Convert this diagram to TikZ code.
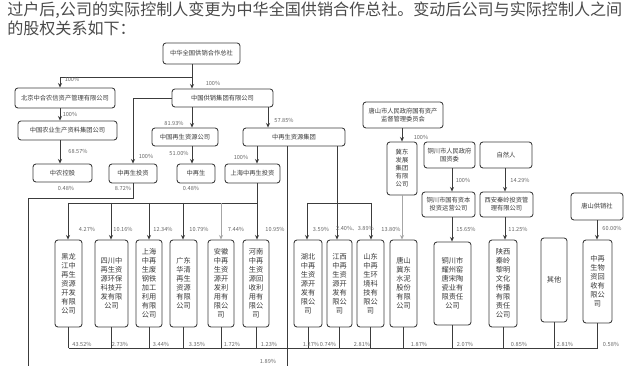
\documentclass[tikz,border=0pt]{standalone}
\usepackage{fontspec}
\setmainfont{Liberation Sans}
\newfontfamily\cjk{Noto Sans CJK SC}
\usetikzlibrary{arrows.meta}
\definecolor{lncol}{HTML}{3C3C3C}
\definecolor{txcol}{HTML}{3A3A3A}
\definecolor{lbcol}{HTML}{666666}
\definecolor{pcol}{HTML}{4A4A4A}
\tikzset{
  box/.style={draw=lncol, line width=0.65pt, rounded corners=2.2pt, inner sep=0pt, align=center,
    font=\cjk\fontsize{4.7}{6}\selectfont, text=txcol},
  tall/.style={font=\cjk\fontsize{5.4}{6.75}\selectfont},
  pct/.style={font=\cjk\fontsize{4.2}{5}\selectfont, text=lbcol, inner sep=0pt},
  wire/.style={draw=lncol, line width=0.65pt},
  arr/.style={wire, -{Stealth[length=3.4pt,width=3pt]}},
  para/.style={font=\cjk\fontsize{12.05}{15}\selectfont, text=pcol, inner sep=0pt, anchor=west},
}
\newcommand{\mybox}[7][]{\node[box,#1,minimum width={(#5-#3)*0.75pt},minimum height={(#6-#4)*0.75pt}] (#2) at ({(#3+#5)/2},{(#4+#6)/2}) {#7};}
\newcommand{\pc}[4]{\node[pct] (#1) at (#2,#3) {#4};}
\begin{document}
\begin{tikzpicture}[x=0.75pt,y=-0.75pt]
\useasboundingbox (0,0) rectangle (627,366);
\fill[white] (0,0) rectangle (627,366);
% paragraph
\node[para] (p1) at (7,10) {过户后,公司的实际控制人变更为中华全国供销合作总社。变动后公司与实际控制人之间};
\node[para] (p2) at (7,28) {的股权关系如下：};
% upper nodes
\mybox{A}{163}{43}{240}{64}{中华全国供销合作总社}
\mybox{B}{15}{88}{115}{108}{北京中合农信资产管理有限公司}
\mybox{C}{18}{121}{117}{140}{中国农业生产资料集团公司}
\mybox{D}{33}{164}{92}{182}{中农控股}
\mybox{M}{172}{89}{273}{107}{中国供销集团有限公司}
\mybox{E}{109}{164}{157}{183}{中再生投资}
\mybox{F}{152}{128}{218}{146}{中国再生资源公司}
\mybox{G}{177}{164}{215}{183}{中再生}
\mybox{H}{243}{128}{345}{146}{中再生资源集团}
\mybox{G2}{225}{164}{280}{183}{上海中再生投资}
\mybox{N}{363}{102}{443}{128}{唐山市人民政府国有资产\\监督管理委员会}
\mybox{P}{387}{142}{417}{195}{冀东\\发展\\集团\\有限\\公司}
\mybox{Q}{424}{142}{475}{168}{铜川市人民政府\\国资委}
\mybox{R}{422}{192}{475}{217}{铜川市国有资本\\投资运营公司}
\mybox{S}{480}{142}{532}{168}{自然人}
\mybox{T}{480}{192}{533}{217}{西安秦岭投资管\\理有限公司}
\mybox{U}{571}{193}{623}{220}{唐山供销社}
% tall nodes
\mybox[tall]{K1}{55}{240}{82}{327}{黑龙\\江中\\再生\\资源\\开发\\有限\\公司}
\mybox[tall]{K2}{95}{240}{128}{327}{四川中\\再生资\\源环保\\科技开\\发有限\\公司}
\mybox[tall]{K3}{136}{240}{162}{327}{上海\\中再\\生废\\钢铁\\加工\\利用\\有限\\公司}
\mybox[tall]{K4}{170}{240}{197}{327}{广东\\华清\\再生\\资源\\有限\\公司}
\mybox[tall]{K5}{208}{240}{234}{327}{安徽\\中再\\生资\\源开\\发利\\用有\\限公\\司}
\mybox[tall]{K6}{243}{240}{269}{327}{河南\\中再\\生资\\源回\\收利\\用有\\限公\\司}
\mybox[tall]{K7}{294}{240}{322}{327}{湖北\\中再\\生资\\源开\\发有\\限公\\司}
\mybox[tall]{K8}{327}{240}{352}{327}{江西\\中再\\生资\\源开\\发有\\限公\\司}
\mybox[tall]{K9}{357}{240}{384}{327}{山东\\中再\\生环\\境科\\技有\\限公\\司}
\mybox[tall]{K10}{390}{240}{417}{327}{唐山\\冀东\\水泥\\股份\\有限\\公司}
\mybox[tall]{K11}{434}{242}{471}{325}{铜川市\\耀州窑\\唐宋陶\\瓷业有\\限责任\\公司}
\mybox[tall]{K12}{489}{240}{517}{327}{陕西\\秦岭\\黎明\\文化\\传播\\有限\\责任\\公司}
\mybox[tall]{K13}{541}{238}{567}{322}{其他}
\mybox[tall]{K14}{583}{240}{612}{323}{中再\\生物\\资回\\收有\\限公\\司}
% connectors, upper part
\coordinate (j1) at (192,77);
\draw[arr] (A.south -| 192,0) -- (M.north -| 192,0);
\draw[arr] (j1) -| (B.north -| 60,0);
\draw[arr] (B.south -| 60,0) -- (C.north -| 60,0);
\draw[arr] (C.south -| 60,0) -- (D.north -| 60,0);
\draw[arr] (M.west) -| (E.north);
\draw[arr] (M.south -| 192,0) -- (F.north -| 192,0);
\draw[arr] (F.south -| 192,0) -- (G.north -| 192,0);
\draw[arr] (M.south -| 268,0) -- (H.north -| 268,0);
\draw[arr] (H.south -| 257,0) -- (G2.north -| 257,0);
\coordinate (out2) at (287,366);
\draw[wire] (H.south -| 287,0) -- (out2);
\draw[arr] (H.south -| 337,0) -- (K8.north -| 337,0);
\coordinate (b2L) at (307,203);
\coordinate (b2R) at (371,203);
\draw[wire] (b2L) -- (b2R);
\draw[arr] (b2L) -- (K7.north -| b2L);
\draw[arr] (b2R) -- (K9.north -| b2R);
\draw[arr] (G2.south -| 257,0) -- (K6.north -| 257,0);
\coordinate (b1L) at (68,203);
\draw[wire] (b1L) -- (257,203);
\foreach \k/\x in {K1/68,K2/111,K3/149,K4/183} \draw[arr] (\x,203) -- (\k.north -| \x,0);
\draw[arr, draw=gray!70] (221,203) -- (K5.north -| 221,0);
\coordinate (out1) at (28,366);
\draw[wire] (E.south) |- (28,198) -- (out1);
\draw[arr] (N.south -| 402,0) -- (P.north -| 402,0);
\draw[arr, draw=gray!70] (P.south -| 402,0) -- (K10.north -| 402,0);
\draw[arr] (Q.south -| 452,0) -- (R.north -| 452,0);
\draw[arr] (R.south -| 452,0) -- (K11.north -| 452,0);
\draw[arr] (S.south -| 505,0) -- (T.north -| 505,0);
\draw[arr] (T.south -| 505,0) -- (K12.north -| 505,0);
\draw[arr] (U.south -| 597,0) -- (K14.north -| 597,0);
% bottom bus
\foreach \k in {K1,K2,K3,K4,K5,K6,K7,K8,K9,K10,K11,K12,K13,K14} \draw[wire] (\k.south) -- (\k.south |- 0,348);
\draw[wire] (K1.south |- 0,348) -- (K14.south |- 0,348);
% labels
\pc{la}{213}{83}{100\%}
\pc{lb}{72}{79}{100\%}
\pc{lc}{70}{114}{100\%}
\pc{ld}{78}{151}{68.57\%}
\pc{le}{146}{156}{100\%}
\pc{lf}{174}{123}{81.93\%}
\pc{lg}{179}{153}{51.00\%}
\pc{lh}{284}{120}{57.85\%}
\pc{lg2}{241}{157}{100\%}
\pc{dD}{66}{188}{0.48\%}
\pc{dE}{123}{188}{8.72\%}
\pc{dG}{191}{188}{0.48\%}
\pc{ln}{421}{137}{100\%}
\pc{lq}{463}{180}{100\%}
\pc{ls}{520}{180}{14.29\%}
\pc{t1}{87}{229}{4.27\%}
\pc{t2}{123}{229}{10.16\%}
\pc{t3}{163}{229}{12.34\%}
\pc{t4}{199}{229}{10.79\%}
\pc{t5}{236}{229}{7.44\%}
\pc{t6}{275}{229}{10.95\%}
\pc{t7}{321}{229}{3.59\%}
\pc{t8}{355}{229}{2.40\%、3.89\%}
\pc{t10}{391}{229}{13.80\%}
\pc{t11}{466}{229}{15.65\%}
\pc{t12}{518}{229}{11.25\%}
\pc{t14}{612}{228}{60.00\%}
\pc{u1}{82}{344}{43.52\%}
\pc{u2}{120}{344}{2.73\%}
\pc{u3}{161}{344}{3.44\%}
\pc{u4}{197}{344}{3.35\%}
\pc{u5}{232}{344}{1.72\%}
\pc{u6}{269}{344}{1.23\%}
\pc{u7}{311}{344}{1.27\%}
\pc{u8}{328}{344}{0.74\%}
\pc{u9}{362}{344}{2.81\%}
\pc{u10}{419}{344}{1.87\%}
\pc{u11}{465}{344}{2.07\%}
\pc{u12}{519}{344}{0.85\%}
\pc{u13}{565}{344}{2.81\%}
\pc{u14}{611}{344}{0.58\%}
\pc{ub}{268}{361}{1.89\%}
\end{tikzpicture}
\end{document}
